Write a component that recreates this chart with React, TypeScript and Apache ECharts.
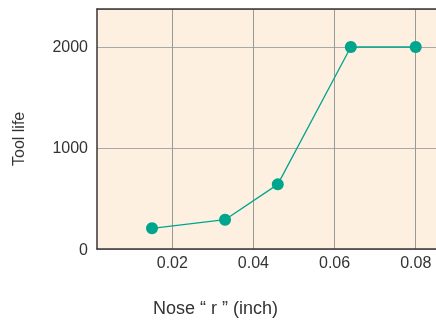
import React, { useEffect, useRef } from "react";
import * as echarts from "echarts";

const noseRadius = [0.015, 0.033, 0.046, 0.064, 0.08];
const toolLife = [205, 290, 640, 2000, 2000];
const xTicks = [0.02, 0.04, 0.06, 0.08];
const yTicks = [0, 1000, 2000];
const xTitle = "Nose \u201c r \u201d (inch)";
const yTitle = "Tool life";

export default function App() {
  const ref = useRef<HTMLDivElement>(null);
  useEffect(() => {
    const chart = echarts.init(ref.current!, null, { renderer: "svg" });
    const font = "'Liberation Sans', Arial, sans-serif";
    chart.setOption({
      animation: false,
      grid: {
        left: 97,
        right: 0,
        top: 9,
        bottom: 71,
        show: true,
        backgroundColor: "#FDF0E1",
        borderWidth: 0,
      },
      xAxis: [
        {
          type: "value",
          min: 0.00144,
          max: 0.085,
          axisLine: { show: true, lineStyle: { color: "#3a3535", width: 1.5 } },
          axisTick: { show: false, customValues: xTicks },
          axisLabel: {
            customValues: xTicks,
            color: "#333",
            fontSize: 16,
            fontFamily: font,
            margin: 5,
            formatter: (v: number) => v.toFixed(2),
          },
          splitLine: { show: true, lineStyle: { color: "#999999", width: 1 } },
        },
        {
          type: "value",
          position: "top",
          min: 0.00144,
          max: 0.085,
          axisLine: { show: true, lineStyle: { color: "#3a3535", width: 1.5 } },
          axisTick: { show: false },
          axisLabel: { show: false },
          splitLine: { show: false },
        },
      ],
      yAxis: {
        type: "value",
        min: 0,
        max: 2376,
        interval: 1000,
        axisLine: { show: true, lineStyle: { color: "#3a3535", width: 1.5 } },
        axisTick: { show: false },
        axisLabel: {
          color: "#333",
          fontSize: 16,
          fontFamily: font,
          margin: 9,
          padding: [3, 0, 0, 0],
          formatter: (v: number) => (yTicks.indexOf(v) >= 0 ? String(v) : ""),
        },
        splitLine: { show: true, lineStyle: { color: "#a8a8a8", width: 1 } },
      },
      graphic: [
        {
          type: "text",
          left: 153,
          top: 299,
          style: { text: xTitle, fill: "#333", fontSize: 18, fontFamily: font },
        },
        {
          type: "text",
          x: 10,
          y: 166,
          rotation: Math.PI / 2,
          style: { text: yTitle, fill: "#333", fontSize: 16, fontFamily: font },
        },
      ],
      series: [
        {
          type: "line",
          data: noseRadius.map((x, i) => [x, toolLife[i]]),
          symbol: "circle",
          symbolSize: 12,
          itemStyle: { color: "#00A58D" },
          lineStyle: { color: "#00A58D", width: 1.3 },
        },
      ],
    });
    return () => chart.dispose();
  }, []);
  return (
    <div
      ref={ref}
      style={{ position: "fixed", left: 0, top: 0, width: 436, height: 320 }}
    />
  );
}
